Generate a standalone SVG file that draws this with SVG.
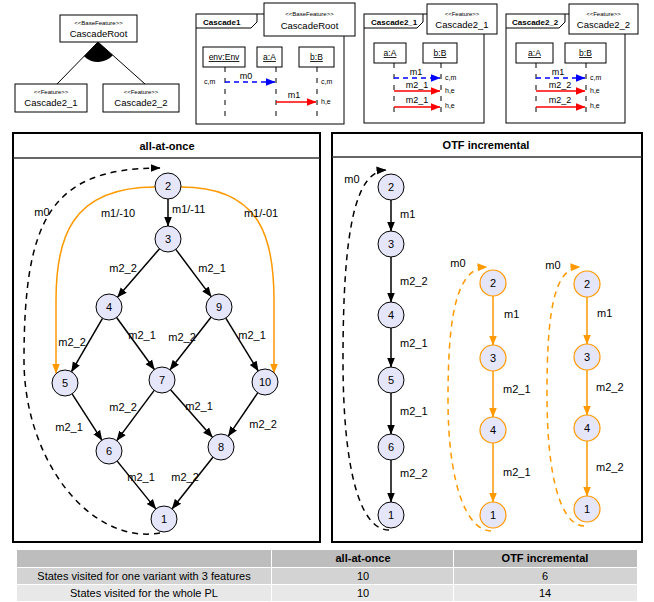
<svg xmlns="http://www.w3.org/2000/svg" width="654" height="602" viewBox="0 0 654 602">
<style>
text{font-family:"Liberation Sans",Arial,sans-serif;fill:#000}
.box{fill:#fff;stroke:#000;stroke-width:1}
.st{font-size:6px;text-anchor:middle}
.fn{font-size:9.5px;text-anchor:middle}
.tab{font-size:8px;font-weight:bold}
.ll{font-size:8.5px;text-anchor:middle;text-decoration:underline}
.ml{font-size:9px;text-anchor:middle}
.sm{font-size:7px}
.life{stroke:#000;stroke-width:1;stroke-dasharray:5,6;fill:none}
.blue{stroke:#0000ff;stroke-width:1.5;stroke-dasharray:5,4;fill:none}
.red{stroke:#ff0000;stroke-width:1.5;fill:none}
.frame{fill:#fff;stroke:#000;stroke-width:2}
.title{font-size:11px;font-weight:bold;text-anchor:middle}
.n{fill:#e6e6fa;stroke:#000;stroke-width:1}
.no{fill:#e6e6fa;stroke:#f90;stroke-width:1.2}
.nt{font-size:11px;text-anchor:middle}
.e{stroke:#000;stroke-width:1.5;fill:none}
.eo{stroke:#f90;stroke-width:1.5;fill:none}
.d{stroke:#000;stroke-width:1.5;fill:none;stroke-dasharray:6,5}
.do{stroke:#f90;stroke-width:1.5;fill:none;stroke-dasharray:6,5}
.lb{font-size:11px}
.lc{font-size:11px;text-anchor:middle}
.th{font-size:11px;font-weight:bold;text-anchor:middle}
.td{font-size:11px;text-anchor:middle}
</style>
<defs>
<marker id="ak" viewBox="0 0 10 10" refX="9.5" refY="5" markerWidth="10" markerHeight="10" markerUnits="userSpaceOnUse" orient="auto"><path d="M0,1 L10,5 L0,9 z" fill="#000"/></marker>
<marker id="ao" viewBox="0 0 10 10" refX="9.5" refY="5" markerWidth="10" markerHeight="10" markerUnits="userSpaceOnUse" orient="auto"><path d="M0,1 L10,5 L0,9 z" fill="#f90"/></marker>
<marker id="abl" viewBox="0 0 10 10" refX="9.5" refY="5" markerWidth="10" markerHeight="10" markerUnits="userSpaceOnUse" orient="auto"><path d="M0,1 L10,5 L0,9 z" fill="#0000ff"/></marker>
<marker id="ar" viewBox="0 0 10 10" refX="9.5" refY="5" markerWidth="10" markerHeight="10" markerUnits="userSpaceOnUse" orient="auto"><path d="M0,1 L10,5 L0,9 z" fill="#ff0000"/></marker>
</defs>
<rect width="654" height="602" fill="#fff"/>

<!-- Feature diagram -->
<g id="feature-diagram">
<g id="connectors-fd">
<line x1="98" y1="42" x2="57" y2="84" stroke="#000" stroke-width="1"/>
<line x1="98" y1="42" x2="145" y2="84" stroke="#000" stroke-width="1"/>
<path d="M98,42 L112.9,55.3 A20,20 0 0 1 84,56.3 Z" fill="#000"/>
</g>
<g id="fd-root"><rect class="box" x="60" y="15" width="77" height="27"/><text class="st" x="98.5" y="25">&lt;&lt;BaseFeature&gt;&gt;</text><text class="fn" x="98.5" y="37">CascadeRoot</text></g>
<g id="fd-c21"><rect class="box" x="15" y="84" width="72" height="28"/><text class="st" x="51" y="94">&lt;&lt;Feature&gt;&gt;</text><text class="fn" x="51" y="106">Cascade2_1</text></g>
<g id="fd-c22"><rect class="box" x="103" y="84" width="76" height="28"/><text class="st" x="141" y="94">&lt;&lt;Feature&gt;&gt;</text><text class="fn" x="141" y="106">Cascade2_2</text></g>
</g>

<!-- Cascade1 -->
<g id="seq-cascade1">
<rect class="box" x="196" y="14" width="148" height="110"/>
<path d="M196,28 L251,28 L257,22 L257,14" fill="none" stroke="#000"/>
<text class="tab" x="203" y="25">Cascade1</text>
<rect class="box" x="264" y="3" width="91" height="33"/>
<text class="st" x="309.5" y="16">&lt;&lt;BaseFeature&gt;&gt;</text>
<text class="fn" x="309.5" y="29">CascadeRoot</text>
<rect class="box" x="203" y="47" width="42" height="20"/><text class="ll" x="224" y="60">env:Env</text>
<rect class="box" x="257" y="47" width="25" height="20"/><text class="ll" x="269.5" y="60">a:A</text>
<rect class="box" x="299" y="47" width="35" height="20"/><text class="ll" x="316.5" y="60">b:B</text>
<line class="life" x1="225" y1="67" x2="225" y2="116"/>
<line class="life" x1="276" y1="67" x2="276" y2="116"/>
<line class="life" x1="317" y1="67" x2="317" y2="116"/>
<path class="blue" d="M225,82 L275,82" marker-end="url(#abl)"/>
<text class="ml" x="246" y="79">m0</text>
<path class="red" d="M276,102 L316,102" marker-end="url(#ar)"/>
<text class="ml" x="294" y="98">m1</text>
<text class="sm" x="204" y="84">c,m</text>
<text class="sm" x="321" y="84">c,m</text>
<text class="sm" x="321" y="104">h,e</text>
</g>

<!-- Cascade2_1 -->
<g id="seq-cascade2_1">
<rect class="box" x="364" y="14" width="120" height="109"/>
<path d="M364,28 L417,28 L423,22 L423,14" fill="none" stroke="#000"/>
<text class="tab" x="371" y="25">Cascade2_1</text>
<rect class="box" x="427" y="4" width="70" height="30"/>
<text class="st" x="462" y="16">&lt;&lt;Feature&gt;&gt;</text>
<text class="fn" x="462" y="28">Cascade2_1</text>
<rect class="box" x="374" y="43" width="32" height="20"/><text class="ll" x="390" y="56">a:A</text>
<rect class="box" x="423" y="43" width="34" height="20"/><text class="ll" x="440" y="56">b:B</text>
<line class="life" x1="394" y1="63" x2="394" y2="112"/>
<line class="life" x1="441" y1="63" x2="441" y2="112"/>
<path class="blue" d="M394,78 L440,78" marker-end="url(#abl)"/>
<text class="ml" x="416" y="75">m1</text>
<path class="red" d="M394,91 L440,91" marker-end="url(#ar)"/>
<text class="ml" x="417" y="88">m2_1</text>
<path class="red" d="M394,107 L440,107" marker-end="url(#ar)"/>
<text class="ml" x="417" y="103">m2_1</text>
<text class="sm" x="445" y="80">c,m</text>
<text class="sm" x="445" y="93">h,e</text>
<text class="sm" x="445" y="108">h,e</text>
</g>

<!-- Cascade2_2 -->
<g id="seq-cascade2_2">
<rect class="box" x="506" y="14" width="119" height="109"/>
<path d="M506,28 L559,28 L565,22 L565,14" fill="none" stroke="#000"/>
<text class="tab" x="512" y="25">Cascade2_2</text>
<rect class="box" x="569" y="4" width="69" height="30"/>
<text class="st" x="603.5" y="16">&lt;&lt;Feature&gt;&gt;</text>
<text class="fn" x="603.5" y="28">Cascade2_2</text>
<rect class="box" x="516" y="43" width="37" height="20"/><text class="ll" x="534.5" y="56">a:A</text>
<rect class="box" x="565" y="43" width="41" height="20"/><text class="ll" x="585.5" y="56">b:B</text>
<line class="life" x1="536" y1="63" x2="536" y2="112"/>
<line class="life" x1="586" y1="63" x2="586" y2="112"/>
<path class="blue" d="M536,78 L585,78" marker-end="url(#abl)"/>
<text class="ml" x="558" y="75">m1</text>
<path class="red" d="M536,91 L585,91" marker-end="url(#ar)"/>
<text class="ml" x="560" y="88">m2_2</text>
<path class="red" d="M536,107 L585,107" marker-end="url(#ar)"/>
<text class="ml" x="560" y="103">m2_2</text>
<text class="sm" x="590" y="80">c,m</text>
<text class="sm" x="590" y="93">h,e</text>
<text class="sm" x="590" y="108">h,e</text>
</g>

<!-- all-at-once frame -->
<g id="frame-all">
<rect class="frame" x="13" y="133" width="307" height="409"/>
<line x1="13" y1="158" x2="320" y2="158" stroke="#333" stroke-width="1.5"/>
<text class="title" x="167" y="150">all-at-once</text>
</g>

<!-- OTF frame -->
<g id="frame-otf">
<rect class="frame" x="332" y="133" width="310" height="409"/>
<line x1="332" y1="157" x2="642" y2="157" stroke="#333" stroke-width="1.5"/>
<text class="title" x="486" y="149">OTF incremental</text>
</g>

<!-- connectors -->
<g id="connectors">
<path class="d" d="M160,533 C90,545 24,460 24,360 C24,220 50,168 160,168" marker-end="url(#ak)"/>
<path class="eo" d="M155,187 C70,187 56,240 56,300 L56,373" marker-end="url(#ao)"/>
<path class="eo" d="M181,187 C262,187 274,240 274,300 L274,373" marker-end="url(#ao)"/>
<line class="e" x1="168" y1="199" x2="168" y2="226" marker-end="url(#ak)"/>
<line class="e" x1="159.5" y1="248.8" x2="117.5" y2="297.2" marker-end="url(#ak)"/>
<line class="e" x1="175.8" y1="249.4" x2="211.2" y2="296.6" marker-end="url(#ak)"/>
<line class="e" x1="102.5" y1="318.3" x2="71.5" y2="371.7" marker-end="url(#ak)"/>
<line class="e" x1="116.6" y1="317.5" x2="154.4" y2="369.5" marker-end="url(#ak)"/>
<line class="e" x1="211" y1="317.2" x2="170" y2="369.8" marker-end="url(#ak)"/>
<line class="e" x1="225.8" y1="318.1" x2="258.2" y2="370.9" marker-end="url(#ak)"/>
<line class="e" x1="72.1" y1="393.9" x2="101.9" y2="440.1" marker-end="url(#ak)"/>
<line class="e" x1="154.2" y1="390.4" x2="116.8" y2="440.6" marker-end="url(#ak)"/>
<line class="e" x1="170.6" y1="389.8" x2="212.4" y2="437.2" marker-end="url(#ak)"/>
<line class="e" x1="257.7" y1="392.8" x2="228.3" y2="436.2" marker-end="url(#ak)"/>
<line class="e" x1="117.2" y1="461.1" x2="155.8" y2="508.9" marker-end="url(#ak)"/>
<line class="e" x1="212.9" y1="457.2" x2="172.1" y2="508.8" marker-end="url(#ak)"/>
<path class="d" d="M389,530 C360,530 343,470 343,360 C343,230 355,172 386,170" marker-end="url(#ak)"/>
<line class="e" x1="391" y1="200" x2="391" y2="231" marker-end="url(#ak)"/>
<line class="e" x1="391" y1="257" x2="391" y2="302" marker-end="url(#ak)"/>
<line class="e" x1="391" y1="328" x2="391" y2="367" marker-end="url(#ak)"/>
<line class="e" x1="391" y1="393" x2="391" y2="434" marker-end="url(#ak)"/>
<line class="e" x1="391" y1="460" x2="391" y2="502" marker-end="url(#ak)"/>
<path class="do" d="M491,531 C465,530 448,480 448,400 C448,320 455,268 487,267" marker-end="url(#ao)"/>
<line class="eo" x1="493" y1="296" x2="493" y2="345" marker-end="url(#ao)"/>
<line class="eo" x1="493" y1="371" x2="493" y2="417" marker-end="url(#ao)"/>
<line class="eo" x1="493" y1="443" x2="493" y2="502" marker-end="url(#ao)"/>
<path class="do" d="M584,526 C560,525 547,475 547,395 C547,320 552,268 580,267" marker-end="url(#ao)"/>
<line class="eo" x1="587" y1="297" x2="587" y2="344" marker-end="url(#ao)"/>
<line class="eo" x1="587" y1="370" x2="587" y2="415" marker-end="url(#ao)"/>
<line class="eo" x1="587" y1="441" x2="587" y2="496" marker-end="url(#ao)"/>
</g>

<!-- edge labels -->
<g id="edge-labels">
<text class="lc" x="42" y="216">m0</text>
<text class="lc" x="118" y="217">m1/-10</text>
<text class="lb" x="172" y="213">m1/-11</text>
<text class="lc" x="261" y="217">m1/-01</text>
<text class="lc" x="123" y="272">m2_2</text>
<text class="lc" x="212" y="272">m2_1</text>
<text class="lc" x="72" y="346">m2_2</text>
<text class="lc" x="142" y="339">m2_1</text>
<text class="lc" x="182" y="341">m2_2</text>
<text class="lc" x="252" y="339">m2_1</text>
<text class="lc" x="123" y="411">m2_2</text>
<text class="lc" x="199" y="410">m2_1</text>
<text class="lc" x="69" y="431">m2_1</text>
<text class="lc" x="263" y="428">m2_2</text>
<text class="lc" x="141" y="481">m2_1</text>
<text class="lc" x="185" y="481">m2_2</text>
<text class="lc" x="352" y="183">m0</text>
<text class="lb" x="400" y="218">m1</text>
<text class="lb" x="400" y="285">m2_2</text>
<text class="lb" x="400" y="347">m2_1</text>
<text class="lb" x="400" y="415">m2_1</text>
<text class="lb" x="400" y="477">m2_2</text>
<text class="lc" x="458" y="267">m0</text>
<text class="lb" x="504" y="318">m1</text>
<text class="lb" x="503" y="393">m2_1</text>
<text class="lb" x="503" y="476">m2_1</text>
<text class="lc" x="553" y="269">m0</text>
<text class="lb" x="597" y="317">m1</text>
<text class="lb" x="596" y="391">m2_2</text>
<text class="lb" x="596" y="471">m2_2</text>
</g>

<g id="a2"><circle class="n" cx="168" cy="186" r="13"/><text class="nt" x="168" y="190">2</text></g>
<g id="a3"><circle class="n" cx="168" cy="239" r="13"/><text class="nt" x="168" y="243">3</text></g>
<g id="a4"><circle class="n" cx="109" cy="307" r="13"/><text class="nt" x="109" y="311">4</text></g>
<g id="a9"><circle class="n" cx="219" cy="307" r="13"/><text class="nt" x="219" y="311">9</text></g>
<g id="a5"><circle class="n" cx="65" cy="383" r="13"/><text class="nt" x="65" y="387">5</text></g>
<g id="a7"><circle class="n" cx="162" cy="380" r="13"/><text class="nt" x="162" y="384">7</text></g>
<g id="a10"><circle class="n" cx="265" cy="382" r="13"/><text class="nt" x="265" y="386">10</text></g>
<g id="a6"><circle class="n" cx="109" cy="451" r="13"/><text class="nt" x="109" y="455">6</text></g>
<g id="a8"><circle class="n" cx="221" cy="447" r="13"/><text class="nt" x="221" y="451">8</text></g>
<g id="a1"><circle class="n" cx="164" cy="519" r="13"/><text class="nt" x="164" y="523">1</text></g>

<g id="o1-2"><circle class="n" cx="391" cy="187" r="13"/><text class="nt" x="391" y="191">2</text></g>
<g id="o1-3"><circle class="n" cx="391" cy="244" r="13"/><text class="nt" x="391" y="248">3</text></g>
<g id="o1-4"><circle class="n" cx="391" cy="315" r="13"/><text class="nt" x="391" y="319">4</text></g>
<g id="o1-5"><circle class="n" cx="391" cy="380" r="13"/><text class="nt" x="391" y="384">5</text></g>
<g id="o1-6"><circle class="n" cx="391" cy="447" r="13"/><text class="nt" x="391" y="451">6</text></g>
<g id="o1-1"><circle class="n" cx="391" cy="515" r="13"/><text class="nt" x="391" y="519">1</text></g>
<g id="o2-2"><circle class="no" cx="493" cy="283" r="13"/><text class="nt" x="493" y="287">2</text></g>
<g id="o2-3"><circle class="no" cx="493" cy="358" r="13"/><text class="nt" x="493" y="362">3</text></g>
<g id="o2-4"><circle class="no" cx="493" cy="430" r="13"/><text class="nt" x="493" y="434">4</text></g>
<g id="o2-1"><circle class="no" cx="493" cy="515" r="13"/><text class="nt" x="493" y="519">1</text></g>
<g id="o3-2"><circle class="no" cx="587" cy="284" r="13"/><text class="nt" x="587" y="288">2</text></g>
<g id="o3-3"><circle class="no" cx="587" cy="357" r="13"/><text class="nt" x="587" y="361">3</text></g>
<g id="o3-4"><circle class="no" cx="587" cy="428" r="13"/><text class="nt" x="587" y="432">4</text></g>
<g id="o3-1"><circle class="no" cx="587" cy="509" r="13"/><text class="nt" x="587" y="513">1</text></g>

<g id="table">
<rect x="17" y="550" width="254" height="17" fill="#bdbdbd"/>
<rect x="272" y="550" width="181" height="17" fill="#bdbdbd"/>
<rect x="454" y="550" width="183" height="17" fill="#bdbdbd"/>
<rect x="17" y="568" width="254" height="16" fill="#d3d3d3"/>
<rect x="272" y="568" width="181" height="16" fill="#d3d3d3"/>
<rect x="454" y="568" width="183" height="16" fill="#d3d3d3"/>
<rect x="17" y="585" width="254" height="16" fill="#e8e8e8"/>
<rect x="272" y="585" width="181" height="16" fill="#e8e8e8"/>
<rect x="454" y="585" width="183" height="16" fill="#e8e8e8"/>
<text class="th" x="363" y="562">all-at-once</text>
<text class="th" x="545" y="562">OTF incremental</text>
<text class="td" x="144" y="580">States visited for one variant with 3 features</text>
<text class="td" x="363" y="580">10</text>
<text class="td" x="545" y="580">6</text>
<text class="td" x="144" y="597">States visited for the whole PL</text>
<text class="td" x="363" y="597">10</text>
<text class="td" x="545" y="597">14</text>
</g>
</svg>
